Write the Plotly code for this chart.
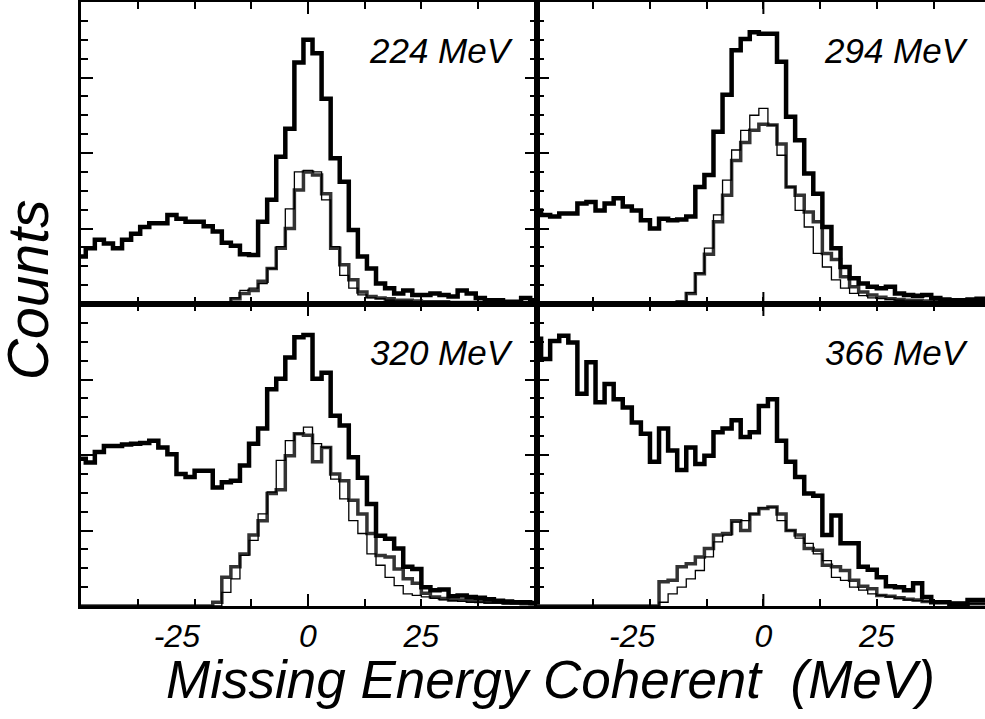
import plotly.graph_objects as go

# ---------------- data (bin centres in MeV, 2 MeV bins) ----------------
bin_centers = list(range(-52, 53, 2))

# 224 MeV
tl_total = [63, 63, 74, 85, 80, 74, 85, 93, 102, 107, 107, 118, 113, 109, 109, 103, 96, 81, 77, 66, 65,
            109, 138, 195, 232, 320, 350, 332, 272, 193, 162, 98, 63, 47, 27, 21, 14, 18, 12, 12, 14, 12,
            10, 18, 14, 8, 5, 5, 3, 3, 8, 5, 5]
tl_coh = [0] * 17 + [1, 7, 14, 18, 30, 47, 74, 100, 151, 175, 171, 146, 74, 52, 32, 16, 10, 8, 7, 5, 5, 4,
                     3, 3, 3, 2, 2, 2, 2, 1, 1, 1, 1, 1, 1, 1]
tl_sim = [0] * 17 + [3, 8, 18, 21, 27, 47, 76, 126, 175, 177, 175, 138, 76, 38, 21, 12, 8, 7, 5, 4, 4, 3,
                     3, 2, 2, 2, 2, 1, 1, 1, 1, 1, 1, 1, 1]

# 294 MeV
tr_total = [124, 124, 118, 116, 120, 120, 133, 135, 124, 133, 140, 129, 124, 111, 100, 113, 111, 112, 116,
            155, 171, 228, 277, 336, 351, 360, 358, 358, 321, 248, 217, 173, 146, 102, 74, 49, 34, 27, 23,
            21, 23, 14, 12, 11, 12, 8, 6, 5, 5, 6, 7, 6, 6]
tr_coh = [0] * 17 + [3, 14, 40, 66, 109, 144, 190, 214, 230, 238, 237, 212, 155, 144, 122, 109, 67, 59, 36,
                     23, 16, 12, 9, 7, 6, 5, 5, 4, 4, 3, 3, 3, 3, 2, 2, 2]
tr_sim = [0] * 17 + [2, 15, 41, 74, 118, 164, 204, 230, 250, 259, 237, 197, 155, 124, 102, 67, 49, 32, 21,
                     14, 11, 8, 7, 6, 5, 4, 4, 3, 3, 2, 2, 2, 2, 2, 2, 2]

# 320 MeV
bl_total = [195, 195, 190, 204, 212, 212, 214, 215, 216, 219, 210, 201, 175, 171, 179, 179, 157, 164, 166,
            186, 215, 235, 287, 301, 329, 356, 359, 301, 309, 252, 239, 197, 170, 135, 93, 89, 76, 52, 49,
            25, 21, 22, 13, 14, 12, 11, 9, 7, 6, 5, 5, 4, 4]
bl_coh = [0] * 16 + [5, 38, 52, 69, 94, 113, 149, 154, 199, 228, 226, 191, 210, 175, 166, 140, 122, 96, 67,
                     65, 49, 36, 30, 17, 12, 10, 8, 8, 7, 6, 5, 5, 4, 4, 3, 3, 3]
bl_sim = [0] * 17 + [18, 36, 67, 87, 122, 151, 193, 219, 228, 237, 215, 210, 168, 142, 113, 96, 69, 54, 38,
                     27, 16, 14, 12, 10, 8, 7, 6, 5, 5, 4, 4, 3, 3, 3, 2, 2]

# 366 MeV
br_total = [354, 354, 327, 351, 358, 349, 281, 323, 270, 294, 274, 263, 243, 228, 191, 235, 206, 180, 210,
            188, 199, 230, 235, 246, 224, 230, 265, 274, 219, 191, 171, 149, 146, 94, 120, 83, 83, 52, 48,
            38, 26, 25, 21, 30, 12, 5, 5, 3, 3, 8, 8, 8, 8]
br_coh = [0] * 15 + [32, 34, 52, 56, 65, 76, 94, 96, 113, 100, 122, 129, 131, 122, 100, 94, 76, 74, 54, 52,
                     47, 34, 26, 23, 14, 13, 11, 9, 8, 6, 5, 5, 4, 4, 3, 3, 3, 3]
br_sim = [0] * 15 + [5, 16, 25, 36, 47, 65, 85, 94, 111, 113, 122, 130, 131, 113, 100, 90, 83, 69, 60, 38,
                     34, 25, 21, 16, 14, 12, 10, 8, 7, 6, 5, 4, 4, 3, 3, 3, 2, 2]

panel_labels = ["224 MeV", "294 MeV", "320 MeV", "366 MeV"]
x_tick_vals = [-25, 0, 25]
x_tick_text = ["-25\u00a0\u00a0\u00a0\u00a0", "0", "25"]

# ---------------- figure ----------------
FONT = "Liberation Sans, Arial, Helvetica, sans-serif"
fig = go.Figure()

panels = [
    ("x", "y", tl_total, tl_coh, tl_sim),
    ("x2", "y2", tr_total, tr_coh, tr_sim),
    ("x3", "y3", bl_total, bl_coh, bl_sim),
    ("x4", "y4", br_total, br_coh, br_sim),
]
for xa, ya, tot, coh, sim in panels:
    fig.add_trace(go.Scatter(x=bin_centers, y=coh, xaxis=xa, yaxis=ya, mode="lines",
                             line=dict(shape="hvh", color="#333333", width=3.5), showlegend=False))
    fig.add_trace(go.Scatter(x=bin_centers, y=sim, xaxis=xa, yaxis=ya, mode="lines",
                             line=dict(shape="hvh", color="#000000", width=1.3), showlegend=False))
    fig.add_trace(go.Scatter(x=bin_centers, y=tot, xaxis=xa, yaxis=ya, mode="lines",
                             line=dict(shape="hvh", color="#000000", width=4.5), showlegend=False))

split = 456 / 904
left_dom = [0, split]
right_dom = [split, 1]
left_range = [-50.05, 50.5]
right_range = [-49.9, 48.85]

def xaxis_cfg(domain, rng, anchor, labels):
    return dict(domain=domain, range=rng, anchor=anchor, showgrid=False, zeroline=False,
                showline=True, linewidth=3, linecolor="black", mirror="ticks",
                tickmode="array", tickvals=x_tick_vals, ticktext=x_tick_text,
                ticks="inside", ticklen=7, tickwidth=2, tickcolor="black",
                minor=dict(tickmode="linear", tick0=0, dtick=12.5, ticks="inside", ticklen=7,
                           tickwidth=2, tickcolor="black", showgrid=False),
                showticklabels=labels, ticklabelstandoff=0,
                tickfont=dict(family=FONT, size=32, color="black", style="italic"))

def yaxis_cfg(domain, anchor, mirror=True, side="left", showline=True, overlaying=None):
    d = dict(domain=domain, range=[0, 400], anchor=anchor, showgrid=False, zeroline=False,
             showline=showline, linewidth=3, linecolor="black", mirror="ticks" if mirror else False,
             side=side, tickmode="linear", tick0=0, dtick=100, ticks="inside", ticklen=12,
             tickwidth=2, tickcolor="black", showticklabels=False,
             minor=dict(tickmode="linear", tick0=0, dtick=25, ticks="inside", ticklen=7,
                        tickwidth=2, tickcolor="black", showgrid=False))
    if overlaying:
        d["overlaying"] = overlaying
    return d

fig.update_layout(
    width=985, height=719,
    margin=dict(l=81, r=0, t=2, b=113),
    paper_bgcolor="white", plot_bgcolor="white",
    xaxis=xaxis_cfg(left_dom, left_range, "y", False),
    xaxis2=xaxis_cfg(right_dom, right_range, "y2", False),
    xaxis3=xaxis_cfg(left_dom, left_range, "y3", True),
    xaxis4=xaxis_cfg(right_dom, right_range, "y4", True),
    yaxis=yaxis_cfg([0.5, 1], "x"),
    yaxis2=yaxis_cfg([0.5, 1], "x2", mirror=False),
    yaxis3=yaxis_cfg([0, 0.5], "x3"),
    yaxis4=yaxis_cfg([0, 0.5], "x4", mirror=False),
    yaxis5=yaxis_cfg([0.5, 1], "x2", mirror=False, side="right", showline=False, overlaying="y2"),
    yaxis6=yaxis_cfg([0, 0.5], "x4", mirror=False, side="right", showline=False, overlaying="y4"),
)

# longer tick at zero on every x axis (bottom and top edges)
zl = 12 / 302
shapes = []
for xa, ya in [("x", "y"), ("x2", "y2"), ("x3", "y3"), ("x4", "y4")]:
    for y0, y1 in [(0, zl), (1 - zl, 1)]:
        shapes.append(dict(type="line", xref=xa, yref=f"{ya} domain", x0=0, x1=0, y0=y0, y1=y1,
                           line=dict(color="black", width=2)))
fig.update_layout(shapes=shapes)

annotations = []
label_pos = [("x", "y", 0.954, 0.841), ("x2", "y2", 0.969, 0.841),
             ("x3", "y3", 0.954, 0.841), ("x4", "y4", 0.969, 0.841)]
for (xa, ya, xx, yy), txt in zip(label_pos, panel_labels):
    annotations.append(dict(text=txt, xref=f"{xa} domain", yref=f"{ya} domain", x=xx, y=yy,
                            xanchor="right", yanchor="middle", showarrow=False,
                            font=dict(family=FONT, size=35, color="black", style="italic")))
annotations.append(dict(text="Counts", xref="paper", yref="paper", x=-0.0586, y=0.523,
                        xanchor="center", yanchor="middle", textangle=-90, showarrow=False,
                        font=dict(family=FONT, size=57, color="black", style="italic")))
annotations.append(dict(text="Missing Energy Coherent \u00a0(MeV)", xref="paper", yref="paper",
                        x=0.519, y=-0.122, xanchor="center", yanchor="middle", showarrow=False,
                        font=dict(family=FONT, size=53, color="black", style="italic")))
fig.update_layout(annotations=annotations)

fig.write_html("out.html")
